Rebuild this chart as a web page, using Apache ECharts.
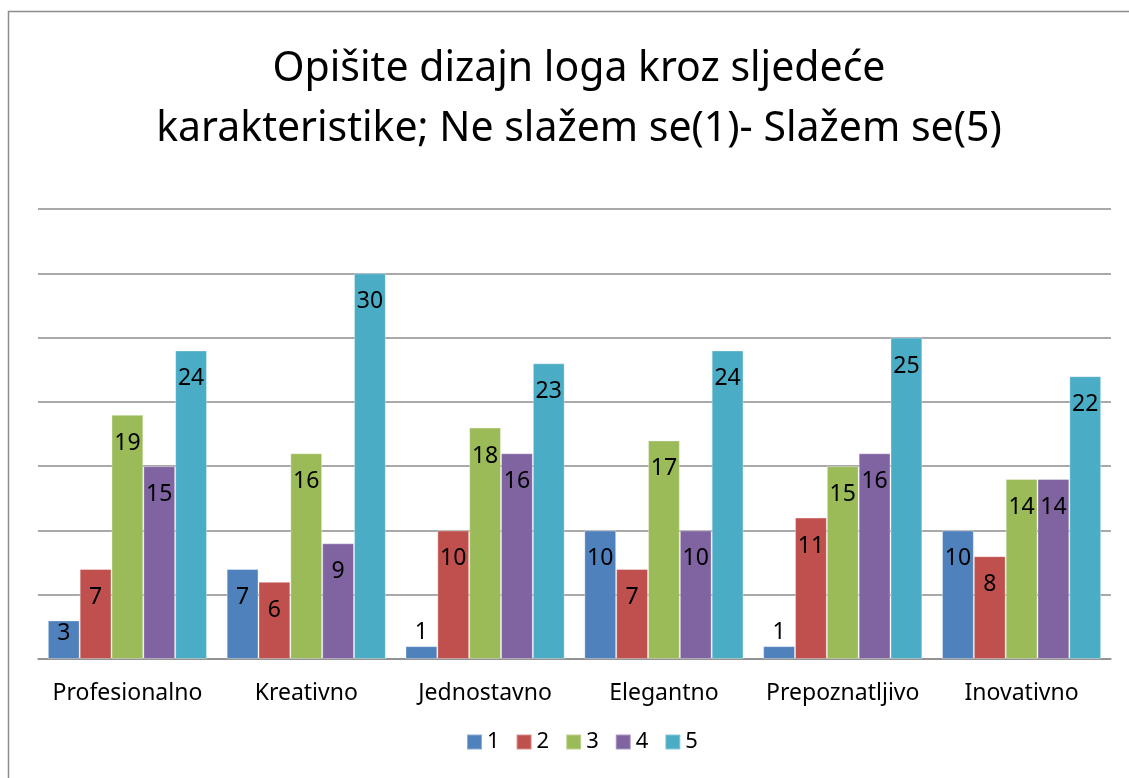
<!DOCTYPE html>
<html>
<head>
<meta charset="utf-8">
<script src="https://cdn.jsdelivr.net/npm/echarts@6/dist/echarts.min.js"></script>
<style>
  html, body { margin: 0; padding: 0; background: #fff; }
  #chart { width: 1129px; height: 778px; }
</style>
</head>
<body>
<div id="chart"></div>
<script>
const categories = ["Profesionalno", "Kreativno", "Jednostavno", "Elegantno", "Prepoznatljivo", "Inovativno"];
const seriesNames = ["1", "2", "3", "4", "5"];
const values1 = [3, 7, 1, 10, 1, 10];
const values2 = [7, 6, 10, 7, 11, 8];
const values3 = [19, 16, 18, 17, 15, 14];
const values4 = [15, 9, 16, 10, 16, 14];
const values5 = [24, 30, 23, 24, 25, 22];
const colors = ["#4f81bd", "#c0504d", "#9bbb59", "#8064a2", "#4bacc6"];

const FONT = "'Noto Sans', sans-serif";

// small bars get their label moved so it stays readable
const withLabels = (vals) =>
  vals.map((v) => {
    if (v <= 1) return { value: v, label: { position: "top", distance: 2 } };
    if (v <= 3) return { value: v, label: { distance: 2 } };
    return v;
  });

const chart = echarts.init(document.getElementById("chart"));

chart.setOption({
  animation: false,
  color: colors,
  title: {
    text: "Opišite dizajn loga kroz sljedeće\nkarakteristike; Ne slažem se(1)- Slažem se(5)",
    left: 574,
    top: 34,
    textAlign: "center",
    textStyle: {
      fontFamily: FONT,
      fontSize: 41,
      fontWeight: "normal",
      color: "#000",
      lineHeight: 60,
    },
  },
  legend: {
    data: seriesNames,
    bottom: 20,
    left: 461,
    icon: "rect",
    itemWidth: 15,
    itemHeight: 15,
    itemGap: 16,
    textStyle: { fontFamily: FONT, fontSize: 22, color: "#000" },
  },
  grid: { left: 38, right: 18, top: 209, bottom: 119 },
  xAxis: {
    type: "category",
    data: categories,
    axisLine: { lineStyle: { color: "#8c8c8c", width: 1.5 } },
    axisTick: { show: false },
    axisLabel: { interval: 0, fontFamily: FONT, fontSize: 23, color: "#000", margin: 23 },
  },
  yAxis: {
    type: "value",
    min: 0,
    max: 35,
    interval: 5,
    axisLine: { show: false },
    axisTick: { show: false },
    axisLabel: { show: false },
    splitLine: { lineStyle: { color: "#8c8c8c", width: 1.5 } },
  },
  series: [values1, values2, values3, values4, values5].map((vals, i) => ({
    name: seriesNames[i],
    type: "bar",
    data: withLabels(vals),
    barGap: "0%",
    barCategoryGap: "11%",
    itemStyle: { borderColor: "rgba(255,255,255,0.35)", borderWidth: 1 },
    label: {
      show: true,
      position: "insideTop",
      distance: 17,
      fontFamily: FONT,
      fontSize: 23,
      color: "#000",
    },
  })),
  graphic: [
    {
      type: "rect",
      shape: { x: 8.5, y: 11.5, width: 1130, height: 780 },
      style: { fill: "none", stroke: "#8c8c8c", lineWidth: 1.5 },
      silent: true,
    },
  ],
});
</script>
</body>
</html>
